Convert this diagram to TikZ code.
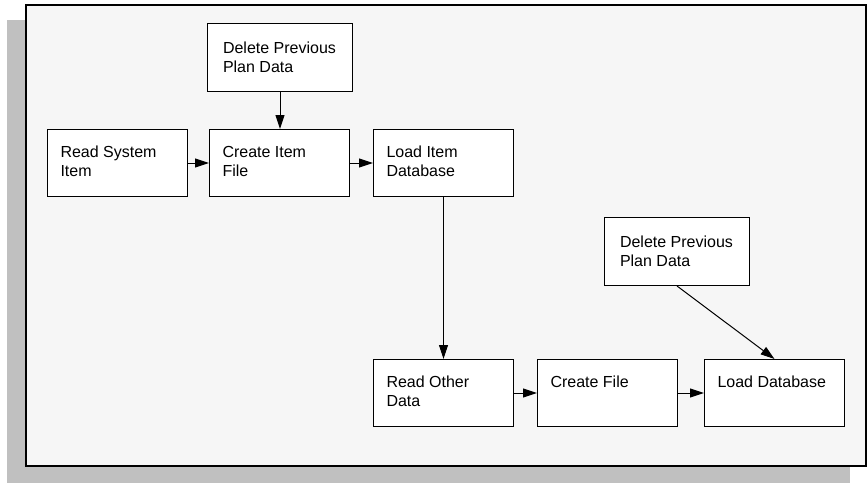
\documentclass[tikz,border=0pt]{standalone}
\usepackage{fontspec}
\setmainfont{Liberation Sans}
\usetikzlibrary{arrows.meta}
\definecolor{shadowgray}{HTML}{C0C0C0}
\definecolor{framebg}{HTML}{F6F6F6}
\begin{document}
\begin{tikzpicture}[x=1pt,y=-1pt,
  every node/.style={font=\fontsize{16pt}{19pt}\selectfont},
  stepbox/.style={draw, fill=white, line width=1pt, anchor=north west,
    inner xsep=13pt, inner ysep=0pt, text height=28pt, text depth=39pt,
    execute at begin node={\begin{minipage}[t]{114pt}},
    execute at end node={\end{minipage}}},
  widebox/.style={stepbox, minimum width=145pt, text height=30pt, text depth=38pt},
  flow/.style={draw, line width=1pt, -{Triangle[length=14pt,width=9pt]}}]
  \useasboundingbox (0,0) rectangle (868,483);
  % shadow and frame
  \fill[shadowgray] (7,20) rectangle (850,483);
  \filldraw[fill=framebg, line width=2.5pt] (26,5) rectangle (866,466);
  % item steps
  \node[widebox] (delitem) at (207,23) {Delete Previous\\Plan Data};
  \node[stepbox] (readsys) at (47,129) {Read System\\Item};
  \node[stepbox] (createitem) at (209,129) {Create Item\\File};
  \node[stepbox] (loaditem) at (373,129) {Load Item\\Database};
  % other data steps
  \node[widebox] (deldata) at (604,217) {Delete Previous\\Plan Data};
  \node[stepbox] (readother) at (373,359) {Read Other\\Data};
  \node[stepbox] (createfile) at (537,359) {Create File};
  \node[stepbox] (loaddb) at (704,359) {Load Database};
  % connectors
  \draw[flow] (delitem.south) -- (delitem.south |- createitem.north);
  \draw[flow] (readsys) -- (createitem);
  \draw[flow] (createitem) -- (loaditem);
  \draw[flow] (loaditem.south) -- (loaditem.south |- readother.north);
  \draw[flow] (readother) -- (createfile);
  \draw[flow] (createfile) -- (loaddb);
  \draw[flow] (deldata.south) -- (loaddb.north);
\end{tikzpicture}
\end{document}
